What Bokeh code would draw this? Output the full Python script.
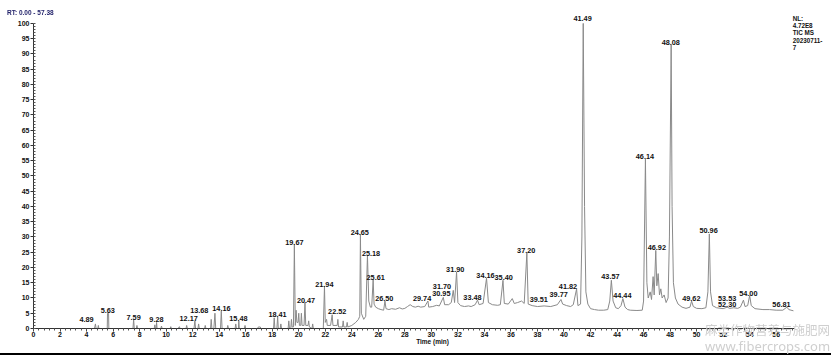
from bokeh.plotting import figure
from bokeh.models import SingleIntervalTicker, Label, ColumnDataSource, Div, Range1d
from bokeh.layouts import column
from bokeh.core.properties import value
from bokeh.embed import file_html
from bokeh.resources import INLINE

# ---------------- data ----------------
trace_rt = [0.0, 4.6, 4.67, 4.72, 4.85, 4.89, 4.93, 5.56, 5.58, 5.66, 5.68,
            7.5, 7.55, 7.6, 7.75, 7.8, 7.85, 9.1, 9.15, 9.2, 9.25, 9.28, 9.32,
            9.6, 9.65, 9.7, 10.3, 10.35, 10.4, 10.9, 11.0, 11.05, 11.5, 11.55, 11.6,
            12.1, 12.17, 12.22, 12.4, 12.45, 12.5, 12.9, 12.95, 13.0, 13.35, 13.4, 13.45,
            13.6, 13.68, 13.74, 14.1, 14.16, 14.22, 14.6, 14.65, 14.7, 15.2, 15.25, 15.3,
            15.45, 15.48, 15.52, 15.9, 15.95, 16.0, 16.9, 16.95, 17.1, 17.15,
            18.1, 18.15, 18.2, 18.35, 18.41, 18.46, 18.6, 18.65, 18.7,
            19.2, 19.25, 19.3, 19.4, 19.45, 19.5, 19.6, 19.67, 19.74, 19.8, 19.86, 19.95,
            20.0, 20.05, 20.15, 20.2, 20.25, 20.4, 20.47, 20.53, 20.7, 20.75, 20.8, 21.0,
            21.05, 21.1, 21.85, 21.94, 22.0, 22.1, 22.15, 22.4, 22.52, 22.58, 22.9, 22.95,
            23.0, 23.3, 23.35, 23.4, 23.6, 23.65, 23.7, 24.0, 24.3, 24.5, 24.6, 24.65,
            24.72, 24.9, 25.05, 25.18, 25.28, 25.4, 25.5, 25.61, 25.68, 25.8, 26.0, 26.2,
            26.4, 26.5, 26.58, 26.8, 27.0, 27.3, 27.6, 27.8, 28.0, 28.2, 28.4, 28.6, 28.8,
            29.0, 29.2, 29.5, 29.74, 29.8, 30.1, 30.4, 30.6, 30.9, 31.0, 31.3, 31.5, 31.65,
            31.75, 31.9, 32.0, 32.2, 32.5, 32.8, 33.0, 33.3, 33.48, 33.6, 33.9, 34.16, 34.3,
            34.6, 35.0, 35.2, 35.4, 35.5, 35.8, 36.1, 36.25, 36.5, 36.8, 37.0, 37.2, 37.3,
            37.6, 38.0, 38.5, 39.0, 39.5, 39.77, 39.9, 40.2, 40.5, 40.7, 40.95, 41.05,
            41.25, 41.35, 41.45, 41.55, 41.65, 41.8, 42.0, 42.3, 42.6, 43.0, 43.3, 43.45,
            43.57, 43.7, 43.9, 44.1, 44.3, 44.44, 44.6, 44.8, 45.0, 45.5, 45.9, 46.0,
            46.14, 46.25, 46.35, 46.5, 46.6, 46.72, 46.8, 46.92, 47.0, 47.1, 47.2, 47.3,
            47.4, 47.55, 47.7, 47.85, 47.95, 48.08, 48.15, 48.25, 48.4, 48.6, 48.9, 49.2,
            49.5, 49.62, 49.75, 50.0, 50.4, 50.7, 50.85, 50.96, 51.05, 51.2, 51.5, 52.0,
            52.3, 52.5, 52.8, 53.1, 53.3, 53.53, 53.65, 53.85, 54.0, 54.12, 54.4, 55.0,
            55.5, 56.0, 56.5, 56.81, 56.95, 57.3]
trace_int = [0.0, 0.0, 1.5, 0.0, 0.0, 1.0, 0.0, 0.0, 5.0, 5.0, 0.0,
             0.0, 3.0, 0.0, 0.0, 1.0, 0.0, 0.0, 1.2, 0.0, 0.0, 2.0, 0.0,
             0.0, 0.8, 0.0, 0.0, 0.6, 0.0, 0.0, 0.6, 0.0, 0.0, 1.0, 0.0,
             0.0, 2.5, 0.0, 0.0, 1.5, 0.0, 0.0, 1.0, 0.0, 0.0, 3.0, 0.0,
             0.0, 5.0, 0.0, 0.0, 5.7, 0.0, 0.0, 1.0, 0.0, 0.0, 1.5, 0.0,
             0.0, 2.5, 0.0, 0.0, 1.0, 0.0, 0.0, 0.5, 0.5, 0.0,
             0.0, 3.5, 0.0, 0.0, 3.8, 0.0, 0.0, 1.5, 0.0,
             0.0, 2.5, 0.0, 0.0, 3.0, 0.5, 0.5, 27.5, 1.0, 6.0, 2.0, 2.0,
             5.0, 1.0, 1.0, 5.0, 1.0, 1.0, 8.5, 1.0, 1.0, 2.5, 0.5, 0.0,
             1.5, 0.0, 0.0, 13.8, 2.0, 3.0, 1.0, 1.0, 4.5, 1.0, 1.0, 3.0,
             0.5, 0.5, 2.5, 0.5, 0.5, 2.0, 0.5, 1.0, 2.0, 3.0, 4.0, 30.8,
             5.0, 3.0, 4.0, 24.0, 9.0, 7.0, 7.0, 16.0, 8.0, 7.0, 6.5, 6.2,
             6.0, 9.0, 6.5, 6.2, 6.5, 6.3, 6.8, 6.4, 6.6, 7.2, 7.8, 7.2, 7.0,
             7.3, 7.0, 7.2, 9.0, 7.0, 7.2, 7.6, 7.4, 10.2, 7.8, 7.8, 8.5, 12.5,
             8.5, 18.5, 8.5, 7.5, 7.2, 7.4, 7.2, 7.8, 9.3, 7.8, 8.2, 16.5, 8.5,
             7.8, 7.6, 7.8, 15.8, 8.2, 8.0, 9.8, 8.2, 8.5, 9.0, 8.2, 24.8, 8.0,
             7.5, 7.2, 7.4, 7.2, 7.8, 9.5, 8.0, 7.5, 7.2, 7.8, 13.0, 7.5,
             8.0, 30.0, 100.0, 40.0, 12.0, 8.0, 6.5, 6.2, 6.0, 6.0, 6.2, 9.0,
             15.8, 9.0, 6.8, 6.5, 7.5, 9.8, 7.0, 6.2, 6.0, 5.9, 6.0, 9.0,
             55.5, 15.0, 10.0, 12.0, 9.5, 17.0, 11.0, 25.6, 14.0, 18.0, 11.0, 13.0,
             10.0, 11.0, 8.5, 10.0, 30.0, 93.0, 40.0, 15.0, 10.0, 8.0, 7.0, 6.6,
             7.0, 9.0, 7.2, 6.6, 6.5, 6.8, 12.0, 31.0, 12.0, 7.5, 6.8, 6.5,
             7.0, 6.6, 6.8, 6.6, 7.0, 9.3, 7.2, 7.5, 10.8, 7.5, 6.5, 6.2,
             6.2, 6.0, 6.0, 7.0, 6.2, 5.8]

label_text = ["4.89", "5.63", "7.59", "9.28", "12.17", "13.68", "14.16", "15.48",
              "18.41", "19.67", "20.47", "21.94", "22.52", "24.65", "25.18", "25.61",
              "26.50", "29.74", "30.95", "31.70", "31.90", "33.48", "34.16", "35.40",
              "37.20", "39.51", "39.77", "41.82", "41.49", "43.57", "44.44", "46.14",
              "46.92", "48.08", "49.62", "50.96", "52.30", "53.53", "54.00", "56.81"]
label_x = [4.0, 5.6, 7.55, 9.27, 11.7, 12.5, 14.17, 15.45,
           18.4, 19.67, 20.55, 21.93, 22.9, 24.6, 25.45, 25.8,
           26.45, 29.3, 30.75, 30.8, 31.8, 33.1, 34.08, 35.45,
           37.15, 38.1, 39.6, 40.3, 41.4, 43.5, 44.4, 46.1,
           47.0, 48.05, 49.6, 50.9, 52.3, 52.3, 53.9, 56.4]
label_y = [2.1, 5.1, 2.8, 2.1, 2.5, 5.1, 5.7, 2.5,
           3.8, 27.4, 8.4, 13.6, 4.8, 30.7, 23.8, 15.9,
           9.0, 9.0, 10.7, 13.0, 18.5, 9.3, 16.6, 15.9,
           24.8, 8.7, 10.3, 13.0, 100.8, 16.2, 10.0, 55.6,
           25.7, 93.0, 9.0, 31.3, 7.0, 9.0, 10.7, 7.0]

rt_start, rt_end = 0.00, 57.38
info_lines = ["NL:", "4.72E8", "TIC  MS", "20230711-", "7"]
info_y = [101.6, 99.2, 96.9, 94.4, 92.1]
watermark = ["麻类作物营养与施肥网", "www.fibercrops.com"]

FONT = "Liberation Sans"
VIEW_END = 60.17      # frame runs to the right edge of the page
VIEW_TOP = 103.9

p = figure(width=831, height=353, x_range=Range1d(rt_start, VIEW_END),
           y_range=Range1d(0, VIEW_TOP), output_backend="svg", toolbar_location=None,
           min_border_left=33, min_border_right=0, min_border_top=11,
           min_border_bottom=25)
p.outline_line_color = None
p.xgrid.visible = False
p.ygrid.visible = False
p.background_fill_color = "white"
p.border_fill_color = "white"

p.line(trace_rt, trace_int, line_color="#8a8a8a", line_width=1)

src = ColumnDataSource(dict(x=label_x, y=label_y, t=label_text))
p.text(x="x", y="y", text="t", source=src, text_align="center",
       text_baseline="bottom", text_font=value(FONT), text_font_style="bold",
       text_font_size="7.3px", text_color="#111111")

for ax in (p.xaxis[0], p.yaxis[0]):
    ax.axis_line_color = "#333333"
    ax.major_tick_line_color = "#333333"
    ax.minor_tick_line_color = "#555555"
    ax.major_label_text_font = FONT
    ax.major_label_text_font_style = "bold"
    ax.major_label_text_font_size = "7px"
    ax.major_label_text_color = "#111111"

p.xaxis.ticker = SingleIntervalTicker(interval=2, num_minor_ticks=5)
p.yaxis.ticker = SingleIntervalTicker(interval=5, num_minor_ticks=5)
p.yaxis.bounds = (0, 100)
p.xaxis.bounds = (rt_start, rt_end)
p.xaxis.major_tick_out = 3
p.xaxis.major_tick_in = 0
p.xaxis.minor_tick_out = 2
p.xaxis.minor_tick_in = 0
p.xaxis.major_label_standoff = 0
p.yaxis.major_tick_out = 3
p.yaxis.major_tick_in = 0
p.yaxis.minor_tick_out = 0
p.yaxis.minor_tick_in = 2
p.yaxis.major_label_standoff = 1
p.xaxis.axis_label = "Time (min)"
p.xaxis.axis_label_text_font = FONT
p.xaxis.axis_label_text_font_style = "bold"
p.xaxis.axis_label_text_font_size = "6.5px"
p.xaxis.axis_label_text_color = "#111111"
p.xaxis.axis_label_standoff = -2

for t, yy in zip(info_lines, info_y):
    p.add_layout(Label(x=57.24, y=yy, text=t, text_baseline="middle",
                       text_align="left", text_font=FONT, text_font_style="bold",
                       text_font_size="6.3px", text_color="#111111"))

# texts that sit outside the plotting frame (title, watermark) and the black
# rule under the chart, pinned to page coordinates
title_txt = "RT: " + f"{rt_start:.2f} - {rt_end:.2f}"
html = (
    '<div style="position:fixed;left:0px;top:353px;width:831px;height:2px;'
    'background:#000;"></div>'
    '<div style="position:fixed;left:7px;top:9px;white-space:nowrap;line-height:8px;'
    "font-family:'Liberation Sans';font-weight:bold;font-size:6.5px;color:#23236b;\">"
    + title_txt + '</div>'
    '<div style="position:fixed;left:705px;top:323px;white-space:nowrap;'
    "font-family:'Noto Sans CJK SC';font-size:12.5px;line-height:14px;color:#cfcfcf;\">"
    + watermark[0] + '</div>'
    '<div style="position:fixed;left:705px;top:339px;white-space:nowrap;'
    "font-family:'Noto Sans';font-size:13px;line-height:14px;color:#cfcfcf;\">"
    + watermark[1] + '</div>'
)
bar = Div(text=html, width=831, height=2, margin=0, styles={"overflow": "visible"})
layout = column(p, bar, spacing=0)

open("out.html", "w").write(file_html(layout, INLINE))
